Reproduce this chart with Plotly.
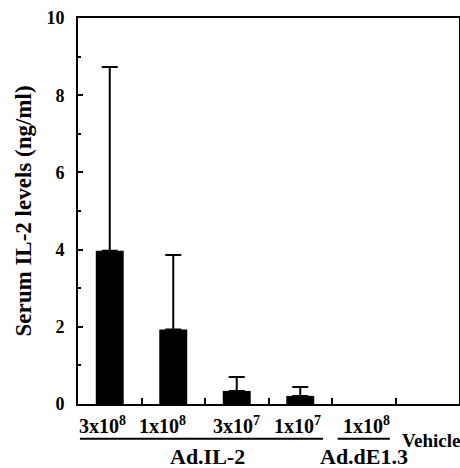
import plotly.graph_objects as go

categories = ["3x10<sup>8</sup>", "1x10<sup>8</sup>", "3x10<sup>7</sup>", "1x10<sup>7</sup>", "1x10<sup>8</sup>", "Vehicle"]
values = [3.97, 1.93, 0.34, 0.21, 0.0, 0.0]
errors_up = [4.76, 1.93, 0.36, 0.23, 0.0, 0.0]
groups = ["Ad.IL-2", "Ad.dE1.3"]
group_spans = [(-0.47, 3.36), (3.59, 4.41)]
y_ticks = [0, 2, 4, 6, 8, 10]

FONT = "Liberation Serif"
x = list(range(len(categories)))
label_shift = [-0.11, -0.17, 0.0, -0.05, 0.05, 0.06]

fig = go.Figure()
fig.add_trace(go.Bar(
    x=x, y=values, width=0.44,
    marker=dict(color=["black" if v > 0 else "rgba(0,0,0,0)" for v in values], line=dict(width=0)),
    showlegend=False,
))
# error bars only where a value was measured
ex = [i for i, v in enumerate(values) if v > 0]
fig.add_trace(go.Scatter(
    x=ex, y=[values[i] for i in ex], mode="markers",
    marker=dict(size=1, color="rgba(0,0,0,0)"),
    error_y=dict(type="data", symmetric=False, array=[errors_up[i] for i in ex],
                 arrayminus=[0] * len(ex), color="black", thickness=2, width=8),
    showlegend=False, hoverinfo="skip",
))

# category labels
for i, lab in enumerate(categories):
    if lab == "Vehicle":
        fig.add_annotation(x=i + label_shift[i], y=-0.095, xref="x", yref="paper", text=lab,
                           showarrow=False, yanchor="middle", xanchor="center",
                           font=dict(family=FONT, size=19, color="black", weight="bold"))
    else:
        fig.add_annotation(x=i + label_shift[i], y=-0.055, xref="x", yref="paper", text=lab,
                           showarrow=False, yanchor="middle", xanchor="center",
                           font=dict(family=FONT, size=20, color="black", weight="bold"))

# group underlines and labels
for g, (a, b) in zip(groups, group_spans):
    fig.add_shape(type="line", xref="x", yref="paper", x0=a, x1=b, y0=-0.09, y1=-0.09,
                  line=dict(color="black", width=2))
    fig.add_annotation(x=(a + b) / 2 + (0.1 if g == "Ad.IL-2" else 0.0), y=-0.135, xref="x", yref="paper",
                       text=g, showarrow=False, yanchor="middle",
                       font=dict(family=FONT, size=22, color="black", weight="bold"))

fig.update_layout(
    width=460, height=468,
    margin=dict(l=78, r=1, t=18, b=64),
    plot_bgcolor="white", paper_bgcolor="white",
    xaxis=dict(range=[-0.5, 5.5], tickvals=[i + 0.5 for i in range(len(categories) - 1)],
               showticklabels=False, ticks="inside", ticklen=6, tickwidth=2, tickcolor="black",
               showline=True, linecolor="black", linewidth=2, mirror=True,
               showgrid=False, zeroline=False, automargin=False),
    yaxis=dict(range=[0, 10], tickvals=y_ticks, ticks="inside", ticklen=5, tickwidth=2,
               tickcolor="black", showline=True, linecolor="black", linewidth=2, mirror=True,
               showgrid=False, zeroline=False, ticklabelstandoff=8, automargin=False,
               minor=dict(dtick=1, ticks="inside", ticklen=3, tickwidth=2, tickcolor="black"),
               tickfont=dict(family=FONT, size=18, color="black", weight="bold"),
               title=dict(text="Serum IL-2 levels (ng/ml)", standoff=8,
                          font=dict(family=FONT, size=23, color="black", weight="bold"))),
)

fig.write_html("out.html", config={"displayModeBar": False},
               post_script="document.body.style.margin='0';document.body.style.overflow='hidden';")
